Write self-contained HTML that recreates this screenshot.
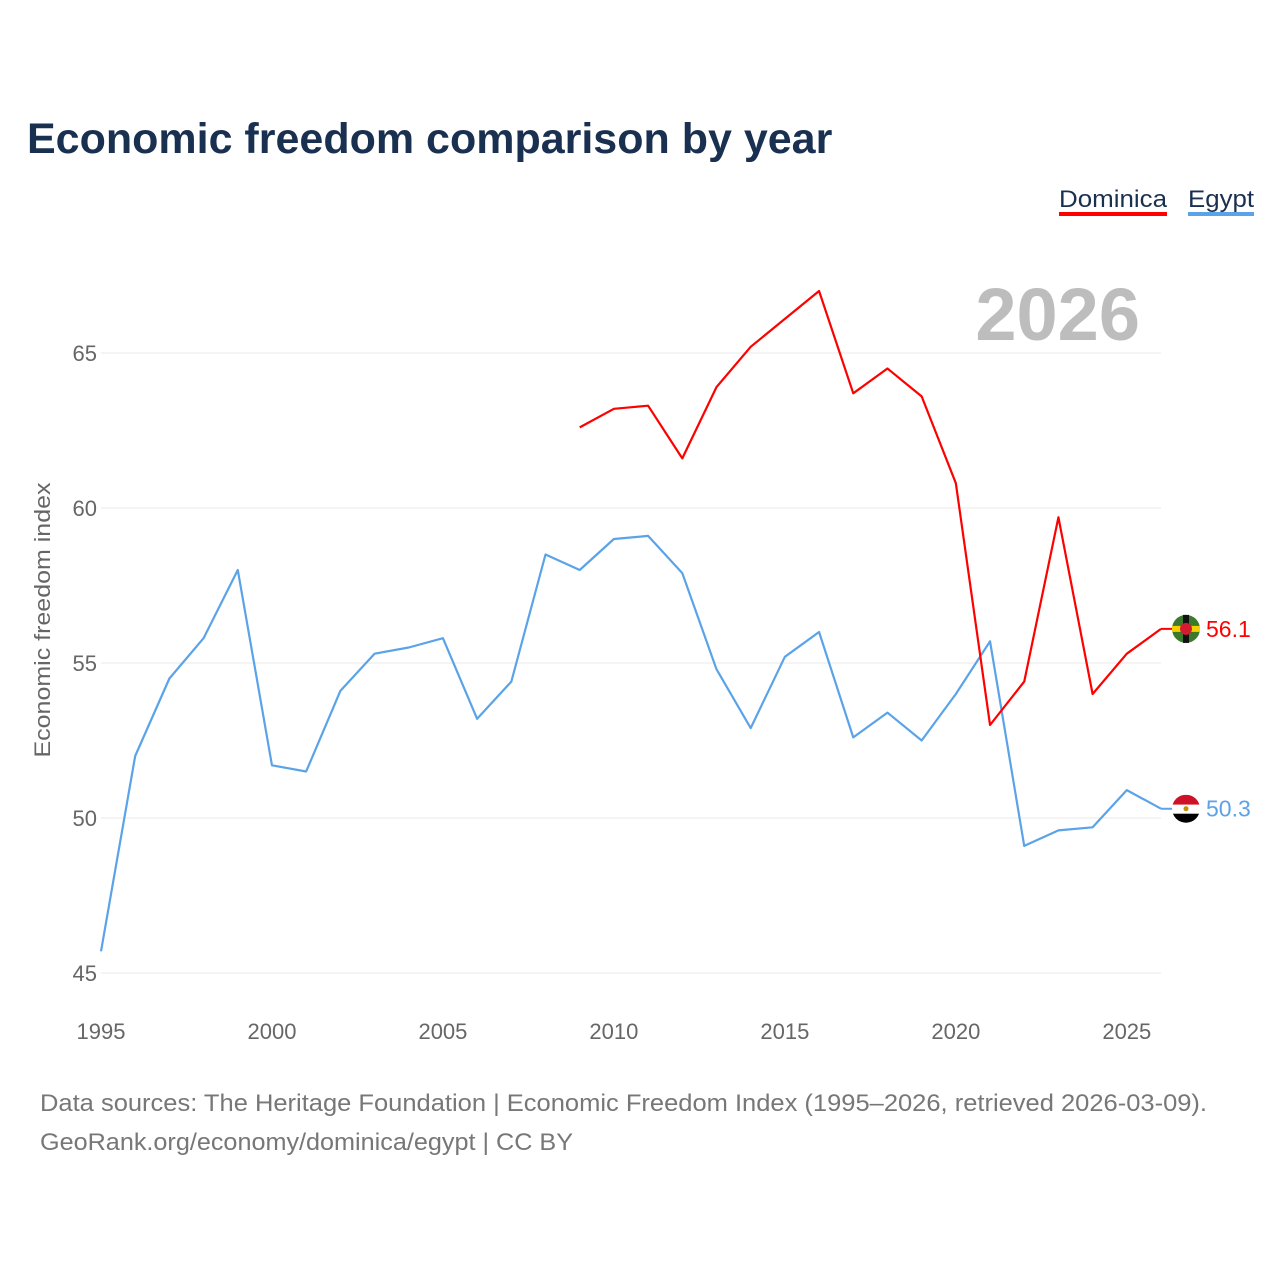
<!DOCTYPE html>
<html><head><meta charset="utf-8">
<style>
body{margin:0;background:#fff;font-family:"Liberation Sans",sans-serif;}
svg text{font-family:"Liberation Sans",sans-serif;}
</style></head>
<body>
<svg id="chart" width="1280" height="1280" xmlns="http://www.w3.org/2000/svg">
<text x="27" y="153" font-size="43" font-weight="bold" fill="#1a3050">Economic freedom comparison by year</text>
<g>
<text x="1059" y="207" font-size="24" fill="#1a3050" textLength="108" lengthAdjust="spacingAndGlyphs">Dominica</text>
<rect x="1059" y="212" width="108" height="4" fill="#ff0000"/>
<text x="1188" y="207" font-size="24" fill="#1a3050" textLength="66" lengthAdjust="spacingAndGlyphs">Egypt</text>
<rect x="1188" y="212" width="66" height="4" fill="#5ba3e8"/>
</g>
<text x="1140" y="340" font-size="74" font-weight="bold" fill="#bdbdbd" text-anchor="end">2026</text>
<text transform="translate(50,620) rotate(-90)" font-size="22" fill="#666" text-anchor="middle" textLength="275" lengthAdjust="spacingAndGlyphs">Economic freedom index</text>
<g id="grid"></g><g id="series"></g>
<text x="40" y="1111" font-size="24" fill="#777" textLength="1167" lengthAdjust="spacingAndGlyphs">Data sources: The Heritage Foundation | Economic Freedom Index (1995–2026, retrieved 2026-03-09).</text>
<text x="40" y="1150" font-size="24" fill="#777" textLength="533" lengthAdjust="spacingAndGlyphs">GeoRank.org/economy/dominica/egypt | CC BY</text>
</svg>
<script>
const years = [1995,1996,1997,1998,1999,2000,2001,2002,2003,2004,2005,2006,2007,2008,2009,2010,2011,2012,2013,2014,2015,2016,2017,2018,2019,2020,2021,2022,2023,2024,2025,2026];
const egypt = [45.7,52.0,54.5,55.8,58.0,51.7,51.5,54.1,55.3,55.5,55.8,53.2,54.4,58.5,58.0,59.0,59.1,57.9,54.8,52.9,55.2,56.0,52.6,53.4,52.5,54.0,55.7,49.1,49.6,49.7,50.9,50.3];
const dominicaYears = [2009,2010,2011,2012,2013,2014,2015,2016,2017,2018,2019,2020,2021,2022,2023,2024,2025,2026];
const dominica = [62.6,63.2,63.3,61.6,63.9,65.2,66.1,67.0,63.7,64.5,63.6,60.8,53.0,54.4,59.7,54.0,55.3,56.1];
const yTicks = [45,50,55,60,65];
const xTicks = [1995,2000,2005,2010,2015,2020,2025];
const NS="http://www.w3.org/2000/svg";
const x = y => 101 + (y-1995)*(1161-101)/31;
const yS = v => 973 - (v-45)*31;
function mk(tag,attrs,parent){const e=document.createElementNS(NS,tag);for(const k in attrs)e.setAttribute(k,attrs[k]);parent.appendChild(e);return e;}
const grid=document.getElementById('grid'), ser=document.getElementById('series');
yTicks.forEach(t=>{
  const l=mk('line',{x1:101,x2:1161,y1:yS(t),y2:yS(t),stroke:'#e8e8e8','stroke-width':1},grid);
  
  
  const tx=mk('text',{x:97,y:yS(t)+8,'font-size':22,fill:'#666','text-anchor':'end'},grid);
  tx.textContent=t;
  
  
});
xTicks.forEach(t=>{
  const tx=mk('text',{x:x(t),y:1039,'font-size':22,fill:'#666','text-anchor':'middle'},grid);
  tx.textContent=t;
  
  
});
function line(xs,vs,color,name){
  const p=mk('polyline',{points:xs.map((yr,i)=>x(yr)+','+yS(vs[i])).join(' '),fill:'none',stroke:color,'stroke-width':2.2,'stroke-linejoin':'round'},ser);
  
  
}
line(years,egypt,'#5ba3e8','egypt-line');
line(dominicaYears,dominica,'#ff0000','dominica-line');
const dv=dominica[dominica.length-1], ev=egypt[egypt.length-1];
const fx=1186;
mk('line',{x1:x(2026),x2:fx,y1:yS(dv),y2:yS(dv),stroke:'#ff0000','stroke-width':2},ser);
mk('line',{x1:x(2026),x2:fx,y1:yS(ev),y2:yS(ev),stroke:'#5ba3e8','stroke-width':2},ser);
const df=mk('g',{},ser);


mk('circle',{cx:fx,cy:yS(dv),r:14,fill:'#3b7a2a'},df);
mk('rect',{x:fx-14,y:yS(dv)-3,width:28,height:6,fill:'#f5d000'},df);
mk('rect',{x:fx-3,y:yS(dv)-14,width:6,height:28,fill:'#111'},df);
mk('circle',{cx:fx,cy:yS(dv),r:6,fill:'#d41c30'},df);
const ef=mk('g',{},ser);


const cp=mk('clipPath',{id:'ec'},ef);
mk('circle',{cx:fx,cy:yS(ev),r:14},cp);
const eg=mk('g',{'clip-path':'url(#ec)'},ef);
mk('rect',{x:fx-14,y:yS(ev)-14,width:28,height:10,fill:'#ce1126'},eg);
mk('rect',{x:fx-14,y:yS(ev)-4,width:28,height:9,fill:'#fff'},eg);
mk('rect',{x:fx-14,y:yS(ev)+5,width:28,height:10,fill:'#000'},eg);
mk('circle',{cx:fx,cy:yS(ev),r:2.5,fill:'#c09300'},eg);
const dl=mk('text',{x:1206,y:yS(dv)+8,'font-size':23,fill:'#ff0000'},ser);
dl.textContent=dv.toFixed(1);


const el=mk('text',{x:1206,y:yS(ev)+8,'font-size':23,fill:'#5ba3e8'},ser);
el.textContent=ev.toFixed(1);


</script>
</body></html>
